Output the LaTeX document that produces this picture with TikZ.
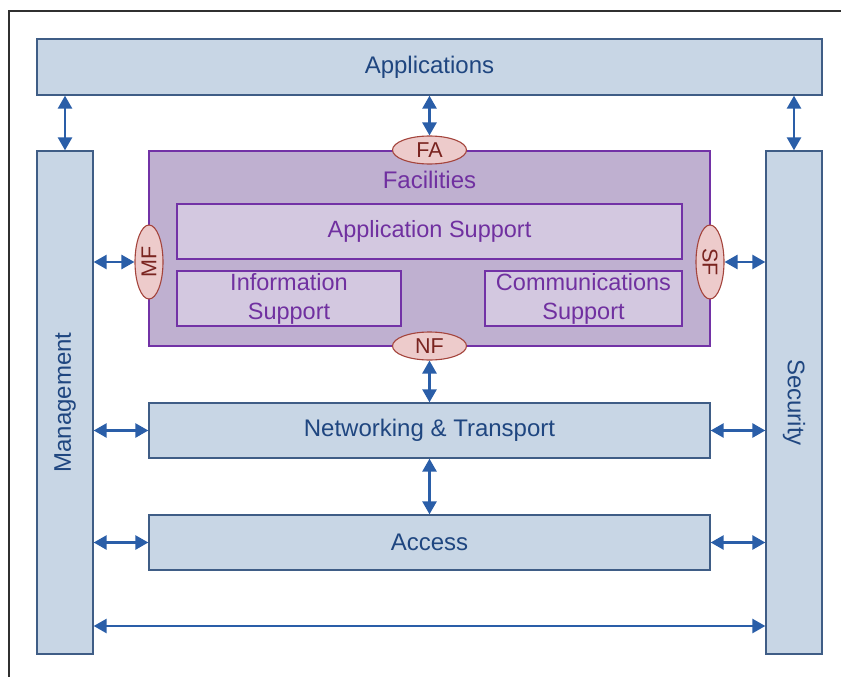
\documentclass[tikz,border=0pt]{standalone}
\usepackage{fontspec}
\setmainfont{Liberation Sans}
\usetikzlibrary{arrows.meta,shapes.geometric}
\definecolor{boxfill}{HTML}{C8D6E5}
\definecolor{boxline}{HTML}{3F5D86}
\definecolor{boxtext}{HTML}{1F4680}
\definecolor{facfill}{HTML}{BFB0D0}
\definecolor{facline}{HTML}{7232A6}
\definecolor{subfill}{HTML}{D3C8E0}
\definecolor{factext}{HTML}{7030A0}
\definecolor{ellfill}{HTML}{EDCBCB}
\definecolor{ellline}{HTML}{A4443C}
\definecolor{elltext}{HTML}{7A2420}
\definecolor{arrowblue}{HTML}{2A5EA8}
\definecolor{framegray}{HTML}{303030}
\tikzset{
  bluebox/.style={draw=boxline, fill=boxfill, line width=1.3pt, text=boxtext,
    inner sep=0pt, font=\fontsize{24}{28}\selectfont, align=center},
  facbox/.style={draw=facline, fill=facfill, line width=1.1pt, inner sep=0pt},
  subbox/.style={draw=facline, fill=subfill, line width=1.1pt, text=factext,
    inner sep=0pt, font=\fontsize{23.5}{29}\selectfont, align=center},
  port/.style={ellipse, draw=ellline, fill=ellfill, line width=1.1pt, text=elltext,
    inner sep=0pt, font=\fontsize{21.5}{24}\selectfont},
  link/.style={draw=arrowblue, line width=2.6pt,
    {Triangle[length=13pt,width=14pt]}-{Triangle[length=13pt,width=14pt]}},
}
\begin{document}
\begin{tikzpicture}[x=1pt,y=-1pt]
\useasboundingbox (0,0) rectangle (841,677);
% outer frame (top and left edges)
\draw[framegray, line width=1.5pt] (9,677) |- (841,11);

% main blocks
\node[bluebox, minimum width=785pt, minimum height=56pt] (app) at (429.5,67) {Applications};
\node[bluebox, minimum width=56pt, minimum height=503pt] (mgmt) at (65,402.5) {\rotatebox{90}{Management}};
\node[bluebox, minimum width=56pt, minimum height=503pt] (sec) at (794,402.5) {\rotatebox{-90}{Security}};
\node[bluebox, minimum width=561pt, minimum height=55pt] (net) at (429.5,430.5) {Networking \& Transport};
\node[bluebox, minimum width=561pt, minimum height=55pt] (acc) at (429.5,542.5) {Access};

% facilities block
\node[facbox, minimum width=561pt, minimum height=195pt] (fac) at (429.5,248.5) {};
\node[text=factext, font=\fontsize{24}{28}\selectfont] (factitle) at (429.5,180) {Facilities};
\node[subbox, minimum width=505pt, minimum height=55pt] (appsup) at (429.5,231.5) {Application Support};
\node[subbox, minimum width=224pt, minimum height=55pt] (infosup) at (289,298.5) {Information\\Support};
\node[subbox, minimum width=197pt, minimum height=55pt] (comsup) at (583.5,298.5) {Communications\\Support};

% interface ellipses
\node[port, minimum width=74pt, minimum height=28pt] (fa) at (429.5,150) {FA};
\node[port, minimum width=74pt, minimum height=28pt] (nf) at (429.5,346) {NF};
\node[port, minimum width=28pt, minimum height=74pt] (mf) at (149,262) {\rotatebox{90}{MF}};
\node[port, minimum width=28pt, minimum height=74pt] (sf) at (710,262) {\rotatebox{-90}{SF}};

% connectors
\draw[link] (mgmt.north) -- (mgmt.north |- app.south);
\draw[link] (sec.north) -- (sec.north |- app.south);
\draw[link] (app.south -| fa.north) -- (fa.north);
\draw[link] (mgmt.east |- mf.west) -- (mf.west);
\draw[link] (sf.east) -- (sec.west |- sf.east);
\draw[link] (nf.south) -- (net.north -| nf.south);
\draw[link] (net.south) -- (acc.north);
\draw[link] (mgmt.east |- net.west) -- (net.west);
\draw[link] (net.east) -- (sec.west |- net.east);
\draw[link] (mgmt.east |- acc.west) -- (acc.west);
\draw[link] (acc.east) -- (sec.west |- acc.east);
\coordinate (bottomlink) at (0,626);
\draw[link] (mgmt.east |- bottomlink) -- (sec.west |- bottomlink);
\end{tikzpicture}
\end{document}
